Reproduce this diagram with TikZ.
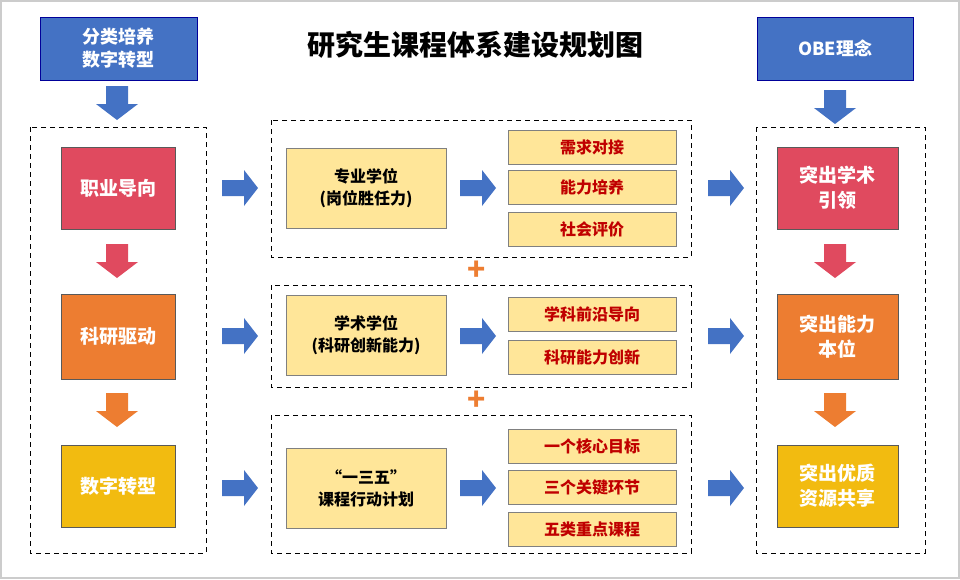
\documentclass[tikz,border=0pt]{standalone}
\usepackage{fontspec}
\setmainfont{Noto Sans CJK SC}
\newcommand\cjkb{\bfseries}
\begin{document}
\begin{tikzpicture}[x=1pt,y=-1pt,
  hdr/.style={draw=blue!60!black,fill={rgb,255:red,68;green,114;blue,196},text=white,font=\cjkb\fontsize{18}{23}\selectfont,align=center},
  lvl/.style={draw=gray!70!black,minimum width=114pt,minimum height=82pt,text=white,font=\cjkb\fontsize{19}{25}\selectfont,align=center},
  mid/.style={draw=gray,fill={rgb,255:red,255;green,230;blue,153},minimum width=160pt,minimum height=80pt,font=\cjkb\fontsize{16}{22}\selectfont,align=center},
  sm/.style={draw=gray,fill={rgb,255:red,255;green,230;blue,153},minimum width=168pt,minimum height=34pt,text={rgb,255:red,192;green,0;blue,0},font=\cjkb\fontsize{16}{18}\selectfont},
  dfr/.style={draw,thick,dash pattern=on 5pt off 4pt},
  pl/.style={text={rgb,255:red,237;green,125;blue,49},font=\cjkb\fontsize{30}{30}\selectfont}]
\definecolor{cred}{RGB}{224,74,95}
\definecolor{corg}{RGB}{237,125,49}
\definecolor{cyel}{RGB}{242,187,16}
\definecolor{cblu}{RGB}{68,114,196}
\useasboundingbox (0,0) rectangle (960,579);
\draw[gray!40,line width=2pt] (1,1) rectangle (959,578);
% headers
\node[hdr,minimum width=157pt,minimum height=63pt] (h1) at (118.5,48.5) {分类培养\\数字转型};
\node[hdr,minimum width=156pt,minimum height=63pt] (h2) at (835,48.5) {OBE理念};
\node[font=\cjkb\fontsize{28}{32}\selectfont] (title) at (475,45) {研究生课程体系建设规划图};
% dashed frames
\draw[dfr] (30,127) rectangle (206,553);
\draw[dfr] (756,127) rectangle (925,553);
\draw[dfr] (271,120) rectangle (691,257);
\draw[dfr] (271,285) rectangle (691,387);
\draw[dfr] (271,415) rectangle (691,553);
% left/right level boxes
\node[lvl,fill=cred] (l1) at (118,188) {职业导向};
\node[lvl,fill=corg,minimum height=85pt] (l2) at (118,336.5) {科研驱动};
\node[lvl,fill=cyel] (l3) at (118,486) {数字转型};
\node[lvl,fill=cred,minimum width=121pt] (r1) at (837.5,188) {突出学术\\引领};
\node[lvl,fill=corg,minimum width=121pt,minimum height=85pt] (r2) at (837.5,336.5) {突出能力\\本位};
\node[lvl,fill=cyel,minimum width=121pt] (r3) at (837.5,486) {突出优质\\资源共享};
% middle boxes
\node[mid] (m1) at (366,188.5) {专业学位\\(岗位胜任力)};
\node[mid] (m2) at (366,335.5) {学术学位\\(科研创新能力)};
\node[mid] (m3) at (366,488.5) {“一三五”\\课程行动计划};
\node[sm] (s11) at (592,147.5) {需求对接};
\node[sm] (s12) at (592,187.5) {能力培养};
\node[sm] (s13) at (592,229.5) {社会评价};
\node[sm] (s21) at (592,314) {学科前沿导向};
\node[sm] (s22) at (592,357) {科研能力创新};
\node[sm] (s31) at (592,446) {一个核心目标};
\node[sm] (s32) at (592,487.5) {三个关键环节};
\node[sm] (s33) at (592,529.5) {五类重点课程};
\node[pl] (p1) at (477,271) {+};
\node[pl] (p2) at (477,401) {+};
% arrow macros
\def\rarrow#1#2#3{\fill[#3] (#1,#2-8) -- (#1+22,#2-8) -- (#1+22,#2-18) -- (#1+36,#2) -- (#1+22,#2+18) -- (#1+22,#2+8) -- (#1,#2+8) -- cycle;}
\def\darrow#1#2#3{\fill[#3] (#1-11,#2) -- (#1+11,#2) -- (#1+11,#2+18) -- (#1+21,#2+18) -- (#1,#2+34) -- (#1-21,#2+18) -- (#1-11,#2+18) -- cycle;}
\foreach \x in {222,460,708}{
  \foreach \y in {188,336,488}{\rarrow{\x}{\y}{cblu}}}
\darrow{117}{86}{cblu}
\darrow{835}{90}{cblu}
\darrow{117}{244}{cred}
\darrow{117}{393}{corg}
\darrow{835}{244}{cred}
\darrow{835}{393}{corg}
\end{tikzpicture}
\end{document}
